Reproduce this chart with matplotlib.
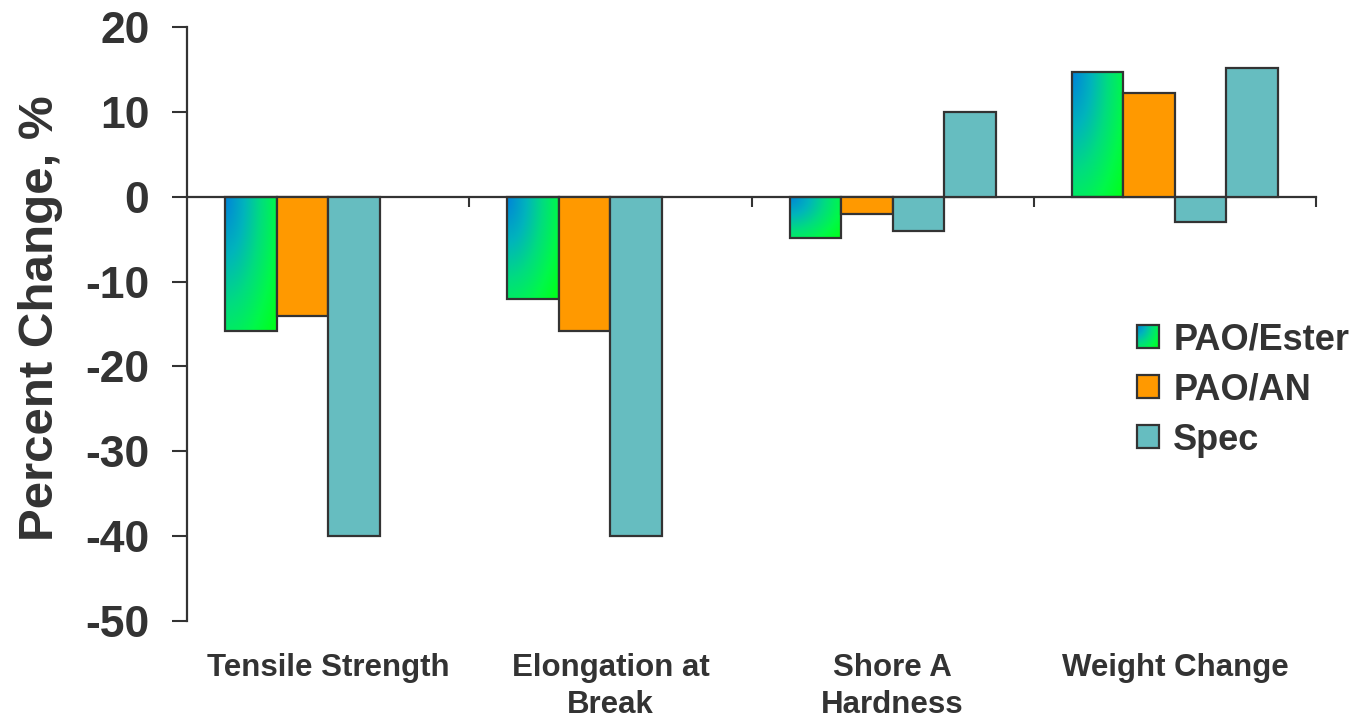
import numpy as np
import matplotlib
matplotlib.use("Agg")
import matplotlib.pyplot as plt
from matplotlib.colors import LinearSegmentedColormap
from matplotlib.patches import Rectangle
from matplotlib.legend_handler import HandlerBase
from matplotlib.image import BboxImage
from matplotlib.transforms import Bbox, TransformedBbox, blended_transform_factory

plt.rcParams["font.family"] = ["Liberation Sans", "DejaVu Sans"]
plt.rcParams["font.weight"] = "bold"
plt.rcParams["axes.labelweight"] = "bold"

# ---- data ----
categories = ["Tensile Strength", "Elongation at\nBreak", "Shore A\nHardness", "Weight Change"]
pao_ester = [-15.8, -12.0, -4.9, 14.7]
pao_an = [-14.0, -15.8, -2.0, 12.2]
spec_low = [-40.0, -40.0, -4.0, -3.0]
spec_high = [np.nan, np.nan, 10.0, 15.2]
series_labels = ["PAO/Ester", "PAO/AN", "Spec"]
yticks = [-50, -40, -30, -20, -10, 0, 10, 20]

TEXT = "#333333"
EDGE = "#333333"
ORANGE = "#FF9900"
TEAL = "#66BDC0"
grad_cmap = LinearSegmentedColormap.from_list(
    "ester", [(0.0, "#0084d8"), (0.3, "#00b4bc"), (0.55, "#00dc80"),
              (0.8, "#00f84a"), (1.0, "#00ff20")])


def gradient_field(n=120):
    # blue in the upper-left corner fading to bright green
    u = np.linspace(0, 1, n)[None, :]
    v = np.linspace(0, 1, n)[:, None]
    return np.clip(np.sqrt((0.8 * u) ** 2 + (0.68 * v) ** 2), 0, 1)


GRAD = gradient_field()

fig = plt.figure(figsize=(13.58, 7.2), dpi=100)
ax = fig.add_axes([187 / 1358, 1 - 621 / 720, (1316 - 187) / 1358, (621 - 27) / 720])

x = np.arange(len(categories))
w = 0.1826
offsets = [-1.5 * w, -0.5 * w, 0.5 * w, 1.5 * w]

# gradient-filled PAO/Ester bars
bars = ax.bar(x + offsets[0], pao_ester, w, facecolor="none", edgecolor=EDGE,
              linewidth=1.6, zorder=3)
for b in bars:
    x0, y0 = b.get_x(), b.get_y()
    bw, bh = b.get_width(), b.get_height()
    ylo, yhi = min(y0, y0 + bh), max(y0, y0 + bh)
    im = ax.imshow(GRAD, cmap=grad_cmap, vmin=0, vmax=1, origin="upper",
                   extent=[x0, x0 + bw, ylo, yhi], aspect="auto",
                   interpolation="bilinear", zorder=2)
    im.set_clip_path(b)

ax.bar(x + offsets[1], pao_an, w, color=ORANGE, edgecolor=EDGE, linewidth=1.6, zorder=3)
ax.bar(x + offsets[2], spec_low, w, color=TEAL, edgecolor=EDGE, linewidth=1.6, zorder=3)
ax.bar(x + offsets[3], spec_high, w, color=TEAL, edgecolor=EDGE, linewidth=1.6, zorder=3)

ax.set_xlim(-0.5, len(categories) - 0.5)
ax.set_ylim(-50, 20)

# axes styling
for s in ["top", "right"]:
    ax.spines[s].set_visible(False)
ax.spines["left"].set_color(EDGE)
ax.spines["left"].set_linewidth(1.6)
ax.spines["bottom"].set_position(("data", 0))
ax.spines["bottom"].set_color(EDGE)
ax.spines["bottom"].set_linewidth(1.6)

ax.set_yticks(yticks)
ax.set_yticklabels([str(t) for t in yticks])
ax.tick_params(axis="y", direction="out", length=11, width=1.5, color=EDGE,
               labelsize=32, labelcolor=TEXT, pad=16)
ax.set_xticks(np.arange(len(categories)) + 0.5)
ax.set_xticklabels([])
ax.tick_params(axis="x", direction="out", length=7, width=1.5, color=EDGE)

ax.set_ylabel("Percent Change, %", fontsize=35.5, color=TEXT, va="center",
              fontweight="bold")
ax.yaxis.set_label_coords(-0.130, 0.51)

# category labels below the plotting area
tr = blended_transform_factory(ax.transData, ax.transAxes)
for xi, lab in zip(x, categories):
    ax.text(xi, -0.054, lab, transform=tr, ha="center", va="top",
            fontsize=22.5, color=TEXT, linespacing=1.28)


class GradientSquare(HandlerBase):
    def create_artists(self, legend, orig_handle, xdescent, ydescent,
                       width, height, fontsize, trans):
        bb = TransformedBbox(Bbox.from_bounds(-xdescent, -ydescent, width, height), trans)
        img = BboxImage(bb, cmap=grad_cmap, norm=plt.Normalize(0, 1),
                        interpolation="bilinear")
        img.set_data(GRAD)
        rect = Rectangle((-xdescent, -ydescent), width, height, facecolor="none",
                         edgecolor=EDGE, linewidth=1.6, transform=trans)
        return [img, rect]


h_ester = Rectangle((0, 0), 1, 1, facecolor="#00e07a", edgecolor=EDGE)
h_an = Rectangle((0, 0), 1, 1, facecolor=ORANGE, edgecolor=EDGE, linewidth=1.6)
h_spec = Rectangle((0, 0), 1, 1, facecolor=TEAL, edgecolor=EDGE, linewidth=1.6)
leg = ax.legend([h_ester, h_an, h_spec], series_labels,
                handler_map={h_ester: GradientSquare()},
                loc="upper left", bbox_transform=fig.transFigure,
                bbox_to_anchor=(1112 / 1358, 1 - 297 / 720),
                frameon=False, fontsize=26, handlelength=0.6, handleheight=0.6,
                handletextpad=0.4, labelspacing=0.42, borderpad=0.2)
for t in leg.get_texts():
    t.set_color(TEXT)

fig.savefig("out.png", dpi=100)
